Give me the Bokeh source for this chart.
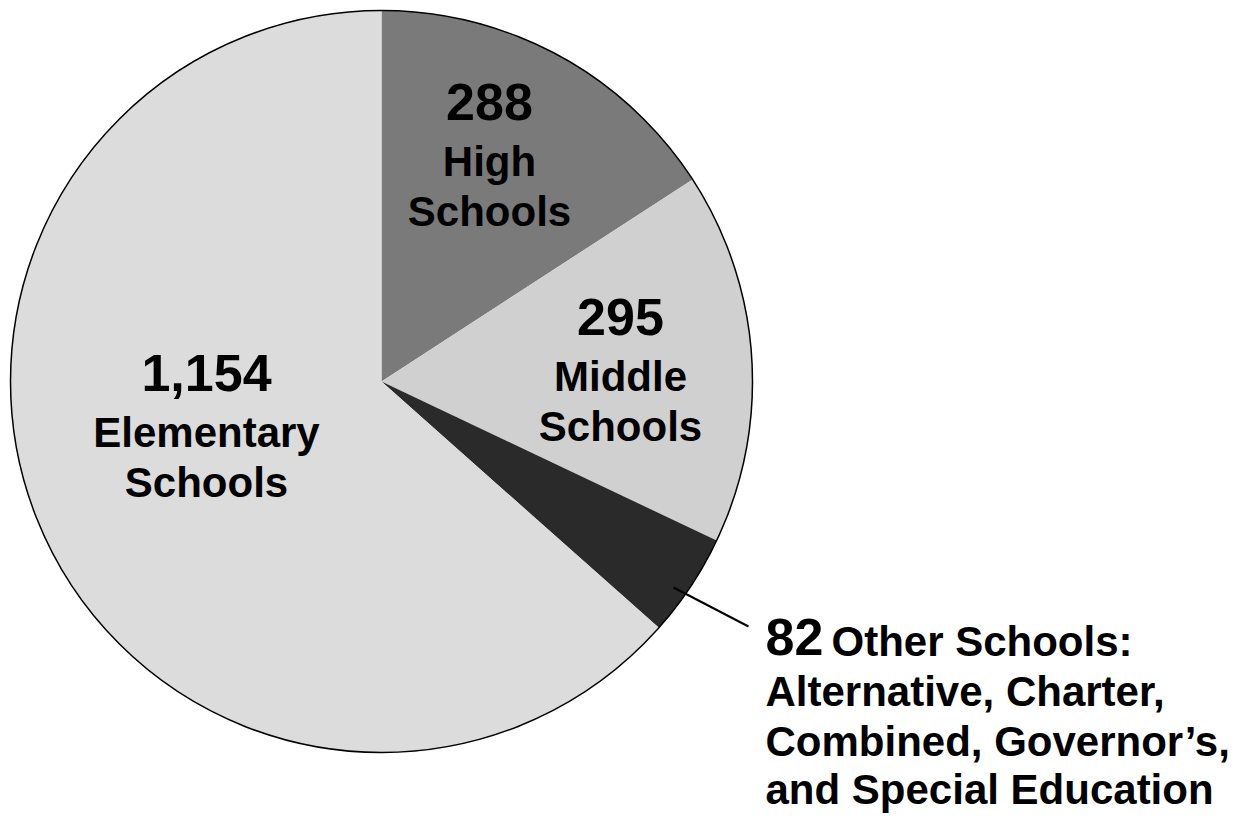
import math
from bokeh.plotting import figure
from bokeh.models import Range1d
from bokeh.core.properties import value
from bokeh.embed import file_html
from bokeh.resources import INLINE

# ---- data ----
categories = ["High Schools", "Middle Schools", "Other Schools", "Elementary Schools"]
counts = [288, 295, 82, 1154]
count_labels = ["288", "295", "82", "1,154"]
name_lines = [["High", "Schools"], ["Middle", "Schools"], [], ["Elementary", "Schools"]]
other_lines = ["Other Schools:", "Alternative, Charter,", "Combined, Governor\u2019s,", "and Special Education"]

# ---- style / layout ----
W, H = 1241, 822
colors = ["#7a7a7a", "#d0d0d0", "#2a2a2a", "#dcdcdc"]
CX, CY, R = 381, 381, 371  # pixel coords (y down)
FONT = "Liberation Sans"
NUM_SIZE, WORD_SIZE = 52, 42
NUM_SHIFT, WORD_SHIFT = 21, 16  # baseline correction

def fy(y):
    return H - y

p = figure(width=W, height=H, output_backend="svg", toolbar_location=None,
           x_range=Range1d(0, W), y_range=Range1d(0, H), min_border=0)
p.axis.visible = False
p.grid.visible = False
p.outline_line_color = None
p.background_fill_color = "white"
p.border_fill_color = "white"

total = sum(counts)
starts, ends = [], []
cum = 0
for c in counts:
    s = math.pi / 2 - 2 * math.pi * cum / total
    cum += c
    e = math.pi / 2 - 2 * math.pi * cum / total
    starts.append(s)
    ends.append(e)

p.wedge(x=[CX] * len(counts), y=[fy(CY)] * len(counts), radius=R,
        start_angle=starts, end_angle=ends, direction="clock",
        fill_color=colors, line_color=None)
p.circle(x=[CX], y=[fy(CY)], radius=R, fill_color=None, line_color="black", line_width=1.5)

# leader line for "Other"
p.segment(x0=[673], y0=[fy(587)], x1=[748], y1=[fy(626)], line_color="black", line_width=2)

# label anchors (x center, number baseline) for slices in order
anchors = [(489, 122), (620, 337), None, (206, 393)]
num_x, num_y, num_t = [], [], []
wd_x, wd_y, wd_t = [], [], []
for i, a in enumerate(anchors):
    if a is None:
        continue
    ax, ay = a
    num_x.append(ax); num_y.append(fy(ay - NUM_SHIFT)); num_t.append(count_labels[i])
    for j, ln in enumerate(name_lines[i]):
        wd_x.append(ax); wd_y.append(fy(ay + 55 + 50 * j - WORD_SHIFT)); wd_t.append(ln)

p.text(x=num_x, y=num_y, text=num_t, text_font=value(FONT), text_font_style="bold",
       text_font_size=f"{NUM_SIZE}px", text_align="center", text_baseline="alphabetic", text_color="black")
p.text(x=wd_x, y=wd_y, text=wd_t, text_font=value(FONT), text_font_style="bold",
       text_font_size=f"{WORD_SIZE}px", text_align="center", text_baseline="alphabetic", text_color="black")

# Other label (left aligned)
p.text(x=[765], y=[fy(657 - NUM_SHIFT)], text=[count_labels[2]], text_font=value(FONT), text_font_style="bold",
       text_font_size=f"{NUM_SIZE}px", text_align="left", text_baseline="alphabetic", text_color="black")
ox = [831, 765, 765, 765]
oy = [fy(657 - WORD_SHIFT), fy(707 - WORD_SHIFT), fy(757 - WORD_SHIFT), fy(805 - WORD_SHIFT)]
p.text(x=ox, y=oy, text=other_lines, text_font=value(FONT), text_font_style="bold",
       text_font_size=f"{WORD_SIZE}px", text_align="left", text_baseline="alphabetic", text_color="black")

open("out.html", "w").write(file_html(p, INLINE))
